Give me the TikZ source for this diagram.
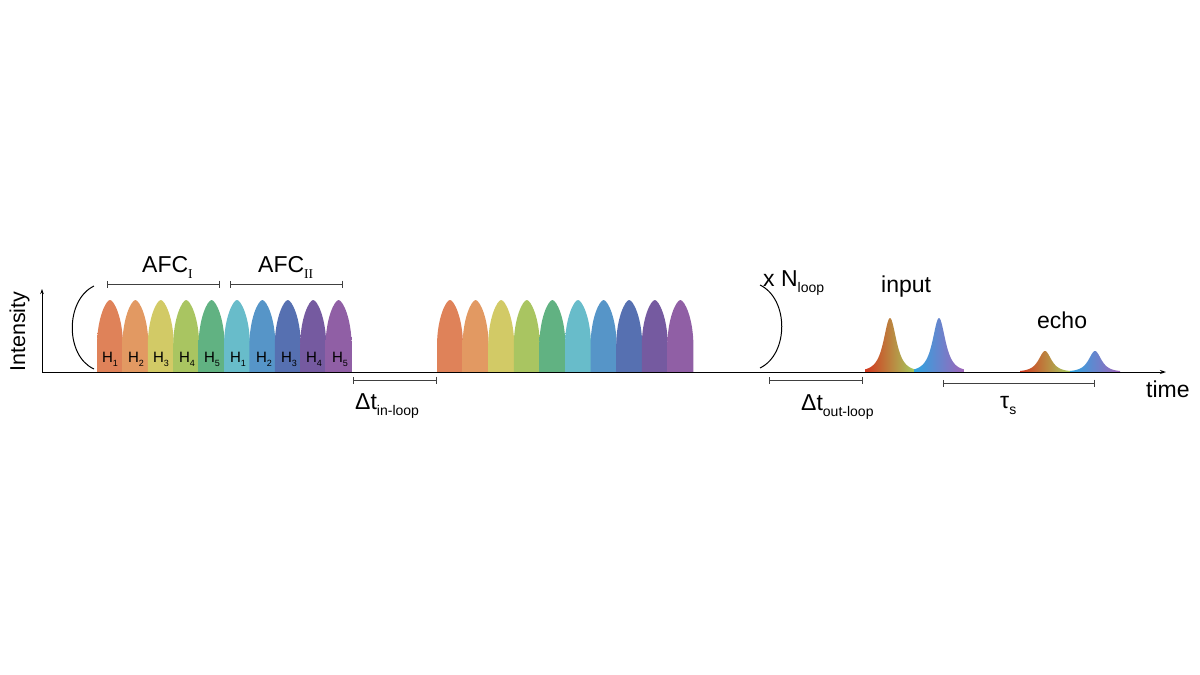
\documentclass[tikz,border=0pt]{standalone}
\usepackage{fontspec}
\setmainfont{Liberation Sans}
\newfontfamily\romI{Liberation Serif}
\usetikzlibrary{arrows.meta}
\newcommand{\lsub}[2][14]{\raisebox{-0.3em}{\fontsize{#1}{#1}\selectfont #2}}
\definecolor{p1}{RGB}{240,140,96}
\definecolor{p2}{RGB}{243,165,105}
\definecolor{p3}{RGB}{226,217,110}
\definecolor{p4}{RGB}{182,212,104}
\definecolor{p5}{RGB}{104,191,140}
\definecolor{p6}{RGB}{112,202,217}
\definecolor{p7}{RGB}{92,160,215}
\definecolor{p8}{RGB}{92,120,190}
\definecolor{p9}{RGB}{126,97,172}
\definecolor{p10}{RGB}{155,102,177}
\definecolor{inred}{RGB}{210,55,30}
\definecolor{inolive}{RGB}{150,130,45}
\definecolor{ingreen}{RGB}{165,205,95}
\definecolor{incyan}{RGB}{45,165,225}
\definecolor{inblue}{RGB}{100,112,200}
\definecolor{inpurple}{RGB}{160,100,185}

\begin{document}
\begin{tikzpicture}[x=1pt,y=-1pt]
  \useasboundingbox (0,0) rectangle (1200,675);

  \tikzstyle{every node}=[inner sep=0pt,font=\fontsize{23}{26}\selectfont]
  \tikzstyle{hlab}=[anchor=base,font=\fontsize{15}{17}\selectfont]
  \tikzstyle{spanbar}=[arrows={Bar[width=7pt]-Bar[width=7pt]},line width=0.8pt,draw=black!75]
  \def\pulse#1#2{\shade[left color=#2!93!black,middle color=#2,right color=#2!93!black]
    (#1,372) -- (#1,346) .. controls (#1,318) and (#1+9,300) .. (#1+13,300)
    .. controls (#1+17,300) and (#1+26,318) .. (#1+26,346) -- (#1+26,372) -- cycle;}
  \def\peak#1#2#3#4#5{\shade[left color=#3,middle color=#4,right color=#5]
    (#1-25,372) -- plot[domain=-25:25,samples=61,smooth] ({#1+\x},{372-#2/((1+\x*\x/96)^1.5)})
    -- (#1+25,372) -- cycle;}

  % first AFC train
  \pulse{97}{p1}
  \pulse{122.4}{p2}
  \pulse{147.8}{p3}
  \pulse{173.2}{p4}
  \pulse{198.6}{p5}
  \pulse{224}{p6}
  \pulse{249.4}{p7}
  \pulse{274.8}{p8}
  \pulse{300.2}{p9}
  \pulse{325.6}{p10}

  % repeated train
  \pulse{437}{p1}
  \pulse{462.6}{p2}
  \pulse{488.2}{p3}
  \pulse{513.8}{p4}
  \pulse{539.4}{p5}
  \pulse{565}{p6}
  \pulse{590.6}{p7}
  \pulse{616.2}{p8}
  \pulse{641.8}{p9}
  \pulse{667.4}{p10}

  % input and echo
  \peak{890}{54}{inred}{inolive}{ingreen}
  \peak{939}{54}{incyan}{inblue}{inpurple}
  \peak{1045}{21}{inred}{inolive}{ingreen}
  \peak{1095}{21}{incyan}{inblue}{inpurple}

  \node[hlab](h1a) at (110,362){H\lsub[9]{1}};
  \node[hlab](h2a) at (136,362){H\lsub[9]{2}};
  \node[hlab](h3a) at (161,362){H\lsub[9]{3}};
  \node[hlab](h4a) at (187,362){H\lsub[9]{4}};
  \node[hlab](h5a) at (212,362){H\lsub[9]{5}};
  \node[hlab](h1b) at (238,362){H\lsub[9]{1}};
  \node[hlab](h2b) at (264,362){H\lsub[9]{2}};
  \node[hlab](h3b) at (289,362){H\lsub[9]{3}};
  \node[hlab](h4b) at (314,362){H\lsub[9]{4}};
  \node[hlab](h5b) at (340,362){H\lsub[9]{5}};

  % axes
  \coordinate (orig) at (42,372);
  \coordinate (tend) at (1166,372);
  \coordinate (iend) at (42,289);
  \draw[line width=1pt,-{Stealth[length=6pt,width=4pt]}](orig)--(tend);
  \draw[line width=0.8pt,-{Stealth[length=5pt,width=3.5pt]}](orig)--(iend);
  \node[rotate=90,anchor=base west,font=\fontsize{21.5}{24}\selectfont](intens) at (25,372){Intensity};
  \node[anchor=base west](timelab) at (1146,397){time};

  % loop brackets
  \draw[line width=1pt] (94,286) .. controls (65,300) and (65,356) .. (94,369);
  \draw[line width=1pt] (760,285) .. controls (789,299) and (789,354) .. (760,368);
  \node[anchor=base west](nloop) at (763,286){x N\lsub{loop}};

  % spans
  \node[anchor=base west](afcI) at (142,272){AFC\lsub[13.5]{\romI I}};
  \node[anchor=base west](afcII) at (258,272){AFC\lsub[13.5]{\romI II}};
  \coordinate (afcIa) at (107,284);
  \coordinate (afcIb) at (220,284);
  \coordinate (afcIIa) at (230,284);
  \coordinate (afcIIb) at (343,284);
  \draw[spanbar](afcIa)--(afcIb);
  \draw[spanbar](afcIIa)--(afcIIb);

  \coordinate (dtina) at (353,380);
  \coordinate (dtinb) at (437,380);
  \draw[spanbar](dtina)--(dtinb);
  \node[anchor=base west](dtin) at (355,409){Δt\lsub{in-loop}};

  \coordinate (dtouta) at (769,380);
  \coordinate (dtoutb) at (863,380);
  \draw[spanbar](dtouta)--(dtoutb);
  \node[anchor=base west](dtout) at (801,410){Δt\lsub{out-loop}};

  \coordinate (taua) at (943,383);
  \coordinate (taub) at (1095,383);
  \draw[spanbar](taua)--(taub);
  \node[anchor=base west](tau) at (1000,408){τ\lsub{s}};

  \node[anchor=base west](inlab) at (881,292){input};
  \node[anchor=base west](echolab) at (1037,328){echo};

\end{tikzpicture}
\end{document}
